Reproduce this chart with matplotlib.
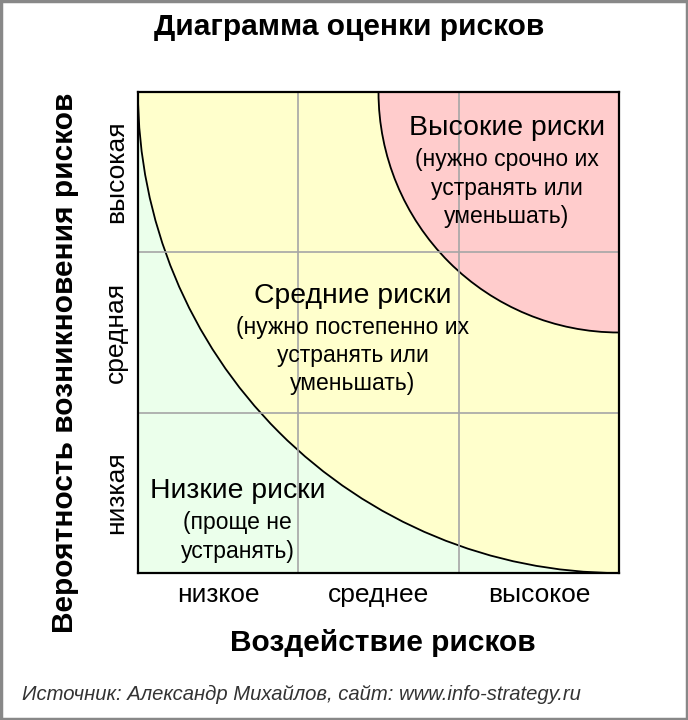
import matplotlib
matplotlib.use("Agg")
import matplotlib.pyplot as plt
from matplotlib.patches import Wedge, Rectangle

plt.rcParams['font.family'] = ['Liberation Sans', 'DejaVu Sans']

# Data
impact_labels = ['низкое', 'среднее', 'высокое']
prob_labels = ['низкая', 'средная', 'высокая']
zone_radii = [3.0, 1.5]  # boundaries low/medium and medium/high (quarter circles)
zone_titles = ['Низкие риски', 'Средние риски', 'Высокие риски']
zone_notes = ['(проще не\nустранять)',
              '(нужно постепенно их\nустранять или\nуменьшать)',
              '(нужно срочно их\nустранять или\nуменьшать)']
zone_title_pos = [(0.62, 0.51), (1.34, 1.73), (2.30, 2.775)]
zone_colors = ['#ebffeb', '#ffffcc', '#ffcccc']


def main():
    fig = plt.figure(figsize=(6.88, 7.2), dpi=100)
    ax = fig.add_axes([138 / 688, 1 - 573 / 720, 481 / 688, 481 / 720])
    n = len(impact_labels)
    ax.set_xlim(0, n)
    ax.set_ylim(0, n)

    # Zones: green background, yellow and red quarter discs from the top-right corner
    ax.add_patch(Rectangle((0, 0), n, n, facecolor=zone_colors[0], edgecolor='none', zorder=0))
    for r, c in zip(zone_radii, zone_colors[1:]):
        ax.add_patch(Wedge((n, n), r, 180, 270, facecolor=c, edgecolor='black',
                           linewidth=1.3, zorder=1))

    # Grid
    for k in range(1, n):
        ax.axvline(k, color='#a6a6a6', linewidth=1.2, zorder=2)
        ax.axhline(k, color='#a6a6a6', linewidth=1.2, zorder=2)

    ax.set_xticks([i + 0.5 for i in range(n)])
    ax.set_xticklabels(impact_labels, fontsize=19)
    ax.set_yticks([i + 0.5 for i in range(n)])
    ax.set_yticklabels(prob_labels, fontsize=19, rotation=90, va='center')
    ax.tick_params(length=0)
    ax.tick_params(axis='x', pad=7)
    ax.tick_params(axis='y', pad=7)
    for s in ax.spines.values():
        s.set_linewidth(1.6)
        s.set_zorder(5)

    # Zone labels
    for (x, y), t, note in zip(zone_title_pos, zone_titles, zone_notes):
        ax.text(x, y, t, fontsize=20.4, ha='center', va='center', zorder=4)
        ax.text(x, y - 0.125, note, fontsize=16.5, ha='center', va='top',
                linespacing=1.3, zorder=4)

    ax.set_xlabel('Воздействие рисков', fontsize=21.5, fontweight='bold', labelpad=16, x=0.51)
    ax.set_ylabel('Вероятность возникновения рисков', fontsize=21.5, fontweight='bold',
                  labelpad=18, y=0.438)

    fig.text(0.507, 1 - 27 / 720, 'Диаграмма оценки рисков', fontsize=21.5,
             fontweight='bold', ha='center', va='center')
    fig.text(22 / 688, 1 - 694 / 720, 'Источник: Александр Михайлов, сайт: www.info-strategy.ru',
             fontsize=14.6, style='italic', color='#333333', ha='left', va='center')

    # Outer frame
    fig.patches.append(Rectangle((0.002, 0.002), 0.996, 0.996, transform=fig.transFigure,
                                 fill=False, edgecolor='#888888', linewidth=2.5))

    fig.savefig('out.png', dpi=100)


if __name__ == "__main__":
    main()
